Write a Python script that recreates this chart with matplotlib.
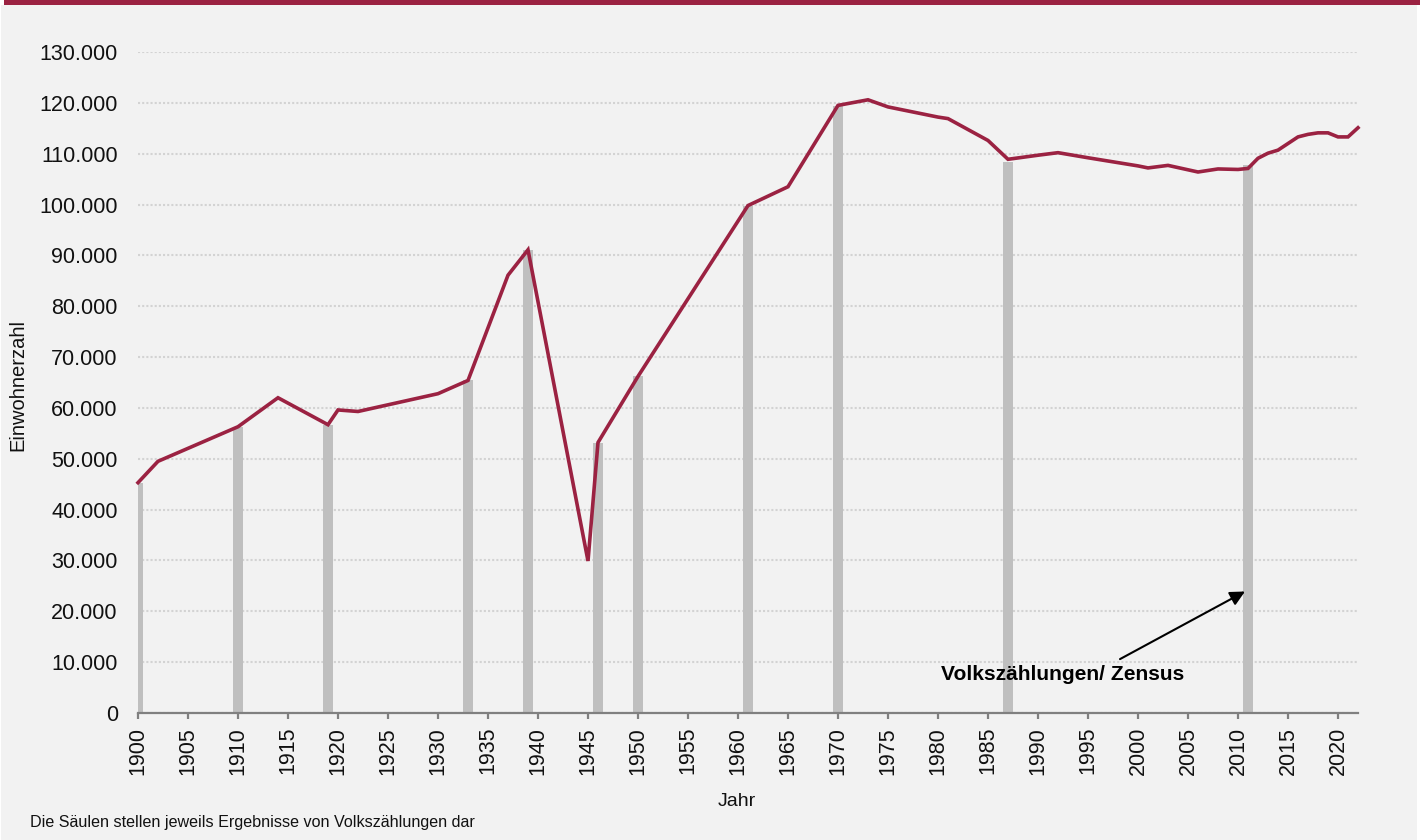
import matplotlib
matplotlib.use("Agg")
import matplotlib.pyplot as plt
from matplotlib.patches import Rectangle
from matplotlib.ticker import FuncFormatter, MultipleLocator

plt.rcParams['font.family'] = ['Liberation Sans', 'DejaVu Sans']

# Population line (Einwohnerzahl)
years = [1900, 1902, 1910, 1914, 1919, 1920, 1922, 1930, 1933, 1937, 1939, 1945,
         1946, 1950, 1961, 1965, 1970, 1973, 1975, 1980, 1981, 1985, 1987, 1990,
         1992, 1995, 2000, 2001, 2003, 2006, 2008, 2010, 2011, 2012, 2013, 2014,
         2016, 2017, 2018, 2019, 2020, 2021, 2022]
population = [45300, 49500, 56300, 62000, 56700, 59600, 59300, 62800, 65400, 86100,
              91100, 29900, 53200, 66200, 99800, 103500, 119500, 120600, 119200,
              117200, 116900, 112600, 108900, 109700, 110200, 109200, 107600, 107200,
              107700, 106400, 107000, 106900, 107100, 109100, 110100, 110700, 113300,
              113800, 114100, 114100, 113300, 113300, 115100]

# Census results (Volkszählungen)
census_years = [1900, 1910, 1919, 1933, 1939, 1946, 1950, 1961, 1970, 1987, 2011]
census_values = [45300, 56300, 56700, 65400, 91100, 53100, 66300, 99800, 119300,
                 108300, 107700]

RED = '#9b2242'
BG = '#f2f2f2'
W, H = 1424, 840

fig = plt.figure(figsize=(W / 100, H / 100), dpi=100, facecolor='white')
# background panel and top band
fig.patches.append(Rectangle((1 / W, 0), 1416 / W, 1 - 5 / H, transform=fig.transFigure,
                             facecolor=BG, edgecolor='none', zorder=-10))
fig.patches.append(Rectangle((4 / W, 1 - 5 / H), 1416 / W, 5 / H, transform=fig.transFigure,
                             facecolor=RED, edgecolor='none', zorder=-9))

ax = fig.add_axes([138 / W, 1 - 713 / H, (1358 - 138) / W, (713 - 52) / H])
ax.set_facecolor('none')

ax.bar(census_years, census_values, width=1.0, color='#bfbfbf', zorder=2)
ax.plot(years, population, color=RED, lw=2.6, zorder=3, clip_on=False,
        solid_joinstyle='miter')

ax.set_xlim(1900, 2022)
ax.set_ylim(0, 130000)
ax.xaxis.set_major_locator(MultipleLocator(5))
ax.yaxis.set_major_locator(MultipleLocator(10000))
ax.yaxis.set_major_formatter(FuncFormatter(lambda v, p: f"{int(v):,}".replace(',', '.')))

ax.grid(axis='y', color='#d3d3d3', lw=1.5, linestyle=(0, (1, 1)))
ax.set_axisbelow(True)

for s in ['top', 'right', 'left']:
    ax.spines[s].set_visible(False)
ax.spines['bottom'].set_color('#808080')
ax.spines['bottom'].set_linewidth(1.6)
ax.spines['bottom'].set_zorder(4)

ax.tick_params(axis='x', length=4, width=1.6, color='#808080', labelsize=15.5,
               labelrotation=90, pad=6, labelcolor='#111111')
ax.tick_params(axis='y', length=0, labelsize=15.5, pad=14.5, labelcolor='#111111')

fig.text(17.5 / W, 1 - 385 / H, 'Einwohnerzahl', rotation=90, ha='center', va='center',
         fontsize=14.5, color='#111111')
fig.text(737 / W, 1 - 801 / H, 'Jahr', ha='center', va='center', fontsize=14,
         color='#111111')
fig.text(30 / W, 1 - 823 / H, 'Die Säulen stellen jeweils Ergebnisse von Volkszählungen dar',
         ha='left', va='center', fontsize=11.6, color='#111111')

ax.text(1992.5, 7500, 'Volkszählungen/ Zensus', ha='center', va='center',
        fontsize=15.1, fontweight='bold', color='black', zorder=5)
ax.annotate('', xy=(2010.7, 23900), xytext=(1998.2, 10600),
            arrowprops=dict(arrowstyle='-|>', color='black', lw=1.5,
                            mutation_scale=22, shrinkA=0, shrinkB=0), zorder=5)

fig.savefig('out.png', dpi=100, facecolor='white')
